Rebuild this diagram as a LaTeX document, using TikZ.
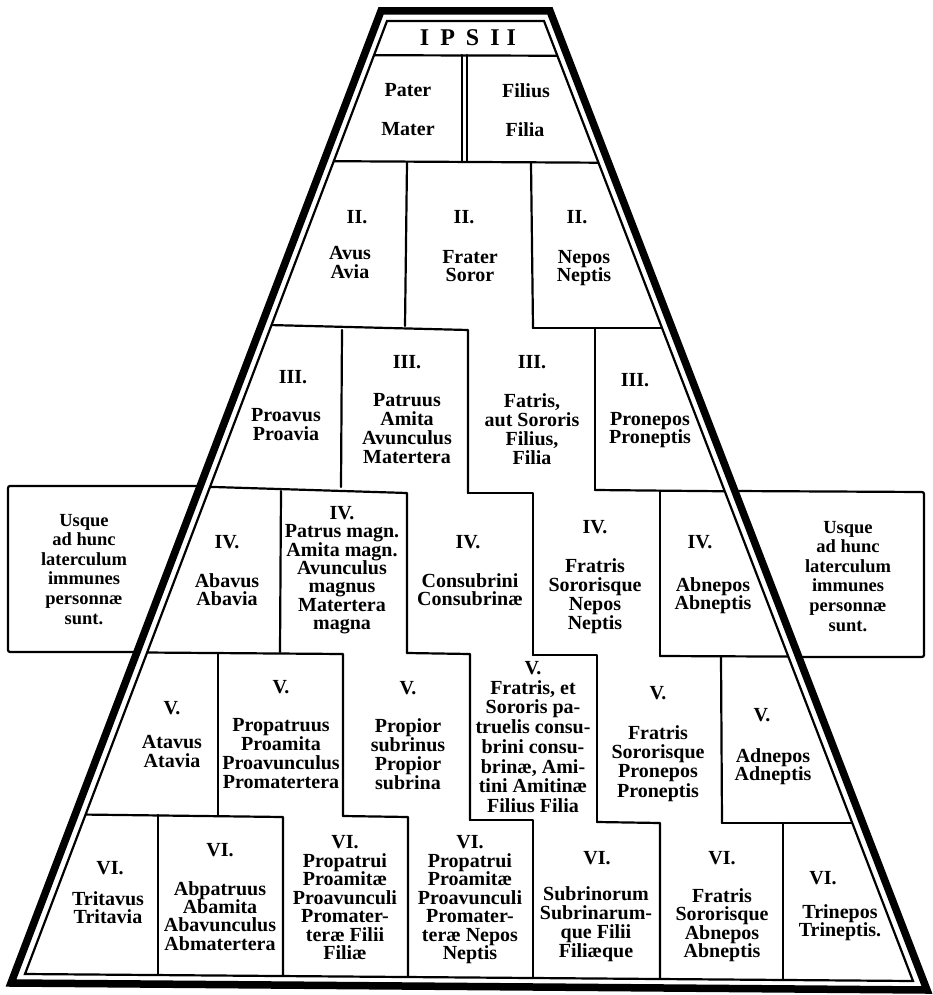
\documentclass[tikz,border=0pt]{standalone}
\usepackage{fontspec}
\setmainfont{Liberation Serif}
\tikzset{
  cl/.style={line width=2.2pt, line cap=round, line join=round},
  txb/.style={anchor=north, yshift=6.8pt, align=center, inner sep=0pt,
              font=\bfseries\fontsize{20}{#1}\selectfont},
  usq/.style={anchor=north, yshift=6.3pt, align=center, inner sep=0pt,
              font=\bfseries\fontsize{18.5}{19.6}\selectfont},
  ttl/.style={inner sep=0pt, font=\bfseries\fontsize{24}{24}\selectfont},
}
\newcommand\mycell[5]{\node[txb=#4] (#1) at (#2,#3) {#5};}
\begin{document}
\begin{tikzpicture}[x=1pt,y=-1pt]
\useasboundingbox (0,0) rectangle (933,995);
\fill[white] (0,0) rectangle (933,995);
% ---- inner cell lines (clipped to inner frame)
\begin{scope}
\clip (387,21) -- (544,21) -- (913,981) -- (25,974) -- cycle;
\draw[cl] (300,55) -- (650,56);
\draw[cl] (300,161) -- (650,163);
\draw[cl,line width=2pt] (462,55) -- (462,162) (467,55) -- (467,162);
\draw[cl] (407,162) -- (405,326);
\draw[cl] (531,163) -- (533,328);
\draw[cl] (150,322) -- (468,330) -- (468,493);
\draw[cl] (533,328) -- (720,328);
\draw[cl] (342,330) -- (341,487);
\draw[cl] (595,328) -- (595,490);
\draw[cl] (150,485) -- (407,493) -- (407,653);
\draw[cl] (468,493) -- (533,493) -- (533,655);
\draw[cl] (595,490) -- (800,492);
\draw[cl] (281,491) -- (280,652);
\draw[cl] (660,491) -- (660,656);
\draw[cl] (80,652) -- (343,654) -- (343,816);
\draw[cl] (407,653) -- (470,654) -- (470,820);
\draw[cl] (533,655) -- (597,655) -- (597,822);
\draw[cl] (660,656) -- (880,657);
\draw[cl] (218,653) -- (218,815);
\draw[cl] (721,657) -- (722,823);
\draw[cl] (40,814) -- (283,817) -- (283,990);
\draw[cl] (343,816) -- (408,817) -- (408,990);
\draw[cl] (470,820) -- (533,820) -- (533,990);
\draw[cl] (597,822) -- (660,823) -- (660,990);
\draw[cl] (722,823) -- (900,823);
\draw[cl] (158,815) -- (158,990);
\draw[cl] (783,823) -- (783,990);
\end{scope}
% ---- side boxes
\draw[cl,rounded corners=2pt] (200,486) -- (8,486) -- (8,652) -- (140,652);
\draw[cl,rounded corners=2pt] (734,491) -- (924,492) -- (924,657) -- (798,657);
% ---- frame
\draw[line width=7.5pt, line join=miter] (381,11) -- (550,11) -- (927,990) -- (11,983) -- cycle;
\draw[line width=2.2pt] (387,21) -- (544,21) -- (913,981) -- (25,974) -- cycle;
% ---- texts
\node[ttl] (title) at (468,38) {I\hspace{11pt}P\hspace{11pt}S\hspace{11pt}I\hspace{7pt}I};
\mycell{pater}{408}{90}{19}{Pater}
\mycell{mater}{408}{129}{19}{Mater}
\mycell{filius}{526}{90}{19}{Filius}
\mycell{filia}{525}{129}{19}{Filia}
\mycell{nA}{357}{217}{19}{II.}
\mycell{avus}{350}{253}{18.5}{Avus\\Avia}
\mycell{nB}{464}{217}{19}{II.}
\mycell{frater}{470}{257}{18.5}{Frater\\Soror}
\mycell{nC}{577}{217}{19}{II.}
\mycell{nepos}{584}{257}{18.5}{Nepos\\Neptis}
\mycell{nD}{293}{377}{19}{III.}
\mycell{proavus}{286}{415}{19}{Proavus\\Proavia}
\mycell{nE}{407}{362}{19}{III.}
\mycell{patruus}{407}{400}{19}{Patruus\\Amita\\Avunculus\\Matertera}
\mycell{nF}{532}{362}{19}{III.}
\mycell{fatris}{532}{400}{19}{Fatris,\\aut Sororis\\Filius,\\Filia}
\mycell{nG}{635}{380}{19}{III.}
\mycell{pronepos}{650}{419}{18.5}{Pronepos\\Proneptis}
\node[usq] (usqueL) at (84,520) {Usque\\ad hunc\\laterculum\\immunes\\personnæ\\sunt.};
\mycell{nH}{227}{542}{19}{IV.}
\mycell{abavus}{227}{580}{18.5}{Abavus\\Abavia}
\mycell{magn}{342}{513}{18.3}{IV.\\Patrus magn.\\Amita magn.\\Avunculus\\magnus\\Matertera\\magna}
\mycell{nI}{468}{542}{19}{IV.}
\mycell{consub}{470}{580}{18.5}{Consubrini\\Consubrinæ}
\mycell{nJ}{595}{527}{19}{IV.}
\mycell{fratrisA}{595}{565}{19}{Fratris\\Sororisque\\Nepos\\Neptis}
\mycell{nK}{700}{542}{19}{IV.}
\mycell{abnepos}{713}{584}{18.5}{Abnepos\\Abneptis}
\node[usq] (usqueR) at (848,527) {Usque\\ad hunc\\laterculum\\immunes\\personnæ\\sunt.};
\mycell{nL}{172}{708}{19}{V.}
\mycell{atavus}{172}{742}{18.5}{Atavus\\Atavia}
\mycell{nM}{281}{687}{19}{V.}
\mycell{propatruus}{281}{725}{19}{Propatruus\\Proamita\\Proavunculus\\Promatertera}
\mycell{nN}{408}{688}{19}{V.}
\mycell{propior}{408}{725}{19}{Propior\\subrinus\\Propior\\subrina}
\mycell{fratrisB}{533}{668}{19.7}{V.\\Fratris, et\\Sororis pa-\\truelis consu-\\brini consu-\\brinæ, Ami-\\tini Amitinæ\\Filius Filia}
\mycell{nO}{658}{693}{19}{V.}
\mycell{fratrisC}{658}{732}{19.3}{Fratris\\Sororisque\\Pronepos\\Proneptis}
\mycell{nP}{762}{715}{19}{V.}
\mycell{adnepos}{773}{755}{18.5}{Adnepos\\Adneptis}
\mycell{nQ}{110}{868}{19}{VI.}
\mycell{tritavus}{108}{898}{18.5}{Tritavus\\Tritavia}
\mycell{nR}{220}{850}{19}{VI.}
\mycell{abpatruus}{220}{888}{18.3}{Abpatruus\\Abamita\\Abavunculus\\Abmatertera}
\mycell{propF}{345}{842}{18.5}{VI.\\Propatrui\\Proamitæ\\Proavunculi\\Promater-\\teræ Filii\\Filiæ}
\mycell{propN}{470}{842}{18.5}{VI.\\Propatrui\\Proamitæ\\Proavunculi\\Promater-\\teræ Nepos\\Neptis}
\mycell{nS}{597}{858}{19}{VI.}
\mycell{subrin}{596}{893}{19}{Subrinorum\\Subrinarum-\\que Filii\\Filiæque}
\mycell{nT}{722}{858}{19}{VI.}
\mycell{fratrisD}{722}{895}{18.5}{Fratris\\Sororisque\\Abnepos\\Abneptis}
\mycell{nU}{823}{878}{19}{VI.}
\mycell{trinepos}{840}{911}{18.5}{Trinepos\\Trineptis.}
\end{tikzpicture}
\end{document}
